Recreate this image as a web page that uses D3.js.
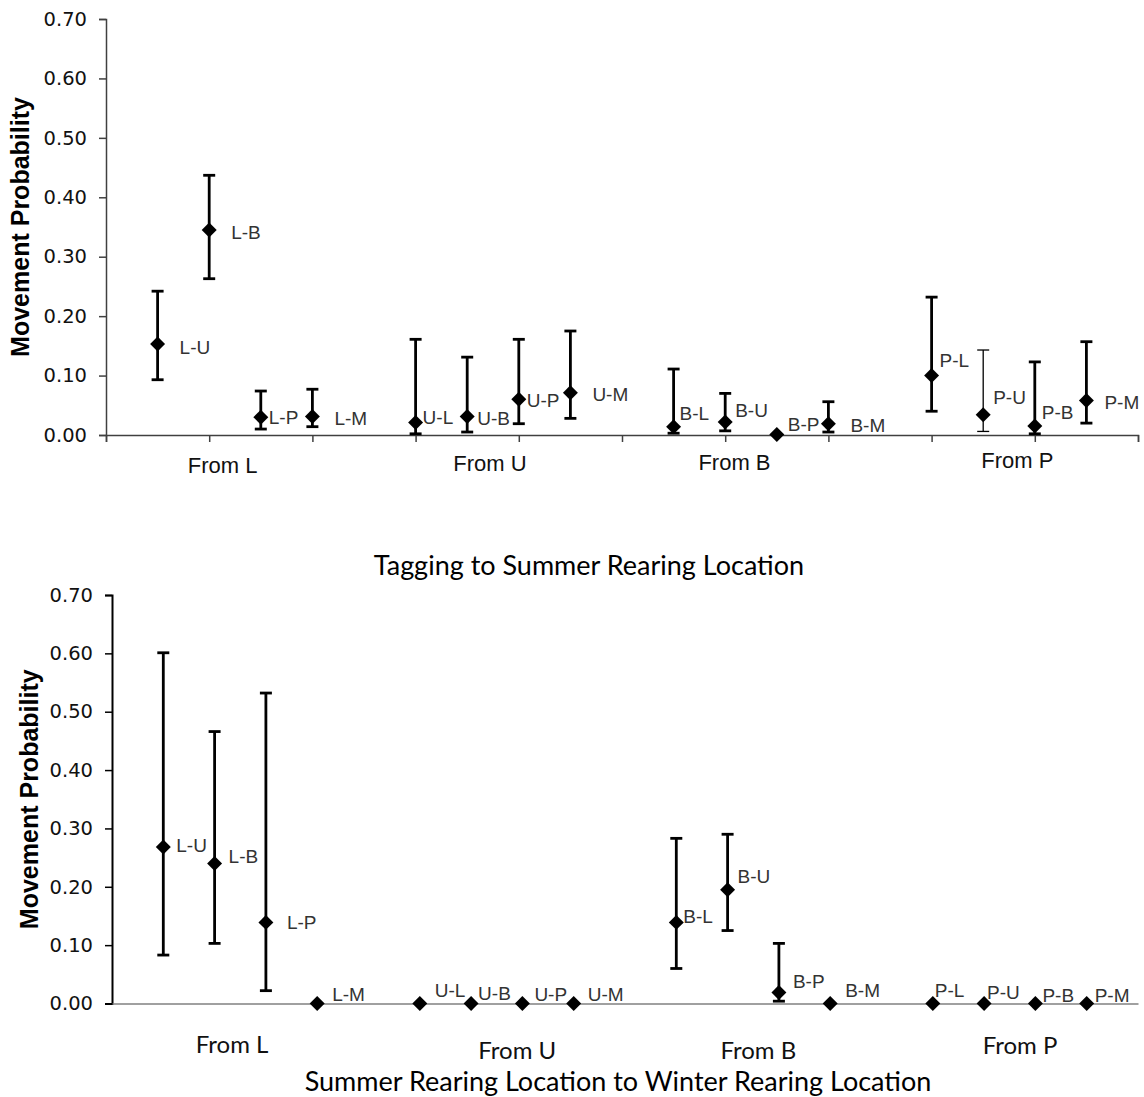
<!DOCTYPE html>
<html>
<head>
<meta charset="utf-8">
<script src="https://cdn.jsdelivr.net/npm/d3@7"></script>
<style>
  body { margin: 0; background: #fff; }
</style>
</head>
<body>
<div id="chart"></div>
<script>
// movement labels (same order in both panels)
const moves = ["L-U","L-B","L-P","L-M","U-L","U-B","U-P","U-M","B-L","B-U","B-P","B-M","P-L","P-U","P-B","P-M"];
const groups = ["From L", "From U", "From B", "From P"];
const yTicks = [0, 0.1, 0.2, 0.3, 0.4, 0.5, 0.6, 0.7];

// panel 1: tagging -> summer rearing
const topX    = [0.5, 1, 1.5, 2, 3, 3.5, 4, 4.5, 5.5, 6, 6.5, 7, 8, 8.5, 9, 9.5];
const topMean = [0.153, 0.345, 0.030, 0.031, 0.021, 0.031, 0.060, 0.071, 0.014, 0.022, 0.001, 0.019, 0.100, 0.034, 0.015, 0.058];
const topLow  = [0.093, 0.263, 0.010, 0.014, 0.002, 0.005, 0.019, 0.028, 0.003, 0.007, 0.001, 0.005, 0.040, 0.006, 0.002, 0.020];
const topHigh = [0.242, 0.437, 0.074, 0.077, 0.161, 0.131, 0.161, 0.175, 0.111, 0.070, 0.001, 0.056, 0.232, 0.143, 0.123, 0.157];
const topGroupX = [1.13, 3.72, 6.09, 8.83];

// panel 2: summer rearing -> winter rearing
const botX    = [1, 2, 3, 4, 6, 7, 8, 9, 11, 12, 13, 14, 16, 17, 18, 19];
const botMean = [0.268, 0.240, 0.139, 0, 0, 0, 0, 0, 0.139, 0.195, 0.019, 0, 0, 0, 0, 0];
const botLow  = [0.083, 0.103, 0.022, 0, 0, 0, 0, 0, 0.060, 0.125, 0.004, 0, 0, 0, 0, 0];
const botHigh = [0.601, 0.466, 0.532, 0, 0, 0, 0, 0, 0.283, 0.290, 0.103, 0, 0, 0, 0, 0];
const botGroupX = [2.34, 7.9, 12.6, 17.7];

// label nudges (px) - hand placed in the original
const topLabelDx = [22, 22, 8, 22, 7, 10, 8, 22, 6, 10, 11, 22, 8, 10, 7, 18];
const topLabelDy = [3, 2, 0, 2, -5, 2, 1, 2, -13, -12, -10, 2, -15, -17, -14, 2];
const botLabelDx = [13, 14, 21, 15, 15, 7, 12, 14, 7, 10, 14, 15, 2, 3, 7, 8];
const botLabelDy = [-2, -7, 0, -9, -13, -10, -9, -9, -6, -13, -11, -13, -13, -11, -8, -8];
const topGroupDy = [2, 0, -1, -3];
const botGroupDy = [-4, 2, 2, -3];

const svg = d3.select("#chart").append("svg")
  .attr("width", 1144).attr("height", 1097);

const arial = "'Liberation Sans', Arial, sans-serif";
const calibriLike = "Lato, 'Open Sans', sans-serif";

function panel(opt) {
  const x = d3.scaleLinear().domain(opt.xDomain).range([opt.left, opt.right]);
  const y = d3.scaleLinear().domain([0, 0.7]).range([opt.bottom, opt.top]);
  const g = svg.append("g");

  // y axis
  const ya = g.append("g").attr("transform", `translate(${opt.left},0)`)
    .call(d3.axisLeft(y).tickValues(yTicks).tickFormat(d3.format(".2f")).tickSizeOuter(0).tickSize(7).tickPadding(12));
  ya.select(".domain").attr("stroke", opt.yAxisColor).attr("stroke-width", opt.yAxisWidth);
  ya.selectAll(".tick line").attr("stroke", opt.yAxisColor).attr("stroke-width", 1.5);
  ya.selectAll(".tick text").attr("fill", "#111")
    .style("font-family", "'DejaVu Sans', sans-serif").style("font-size", "19.5px");

  // x axis
  const xa = g.append("g").attr("transform", `translate(0,${opt.bottom})`)
    .call(d3.axisBottom(x).ticks(opt.xDomain[1]).tickFormat("").tickSize(opt.xTicks ? 7 : 0).tickSizeOuter(opt.xTicks ? 7 : 0));
  xa.select(".domain").attr("stroke", opt.xAxisColor).attr("stroke-width", 1.5);
  xa.selectAll(".tick line").attr("stroke", opt.xAxisColor).attr("stroke-width", 1.5);

  // y title
  g.append("text")
    .attr("transform", `translate(${opt.titleX},${(opt.top + opt.bottom) / 2}) rotate(-90)`)
    .attr("text-anchor", "middle").attr("dy", "0.35em")
    .style("font-family", arial).style("font-size", "25px").style("font-weight", "bold")
    .attr("fill", "#000")
    .text("Movement Probability");

  // group labels
  g.selectAll(".grp").data(groups).join("text")
    .attr("x", (d, i) => x(opt.groupX[i]))
    .attr("y", (d, i) => opt.groupY + opt.groupDy[i])
    .attr("text-anchor", "middle").attr("dy", "0.35em")
    .attr("fill", "#111")
    .style("font-family", opt.groupFont).style("font-size", opt.groupSize + "px")
    .text(d => d);

  const pts = moves.map((m, i) => ({
    m, x: opt.xs[i], v: opt.mean[i], lo: opt.low[i], hi: opt.high[i],
    dx: opt.dx[i], dy: opt.dy[i], thin: opt.thin.includes(m)
  }));

  // error bars
  const eb = g.selectAll(".eb").data(pts.filter(d => d.hi > d.lo)).join("g")
    .attr("stroke", "#000")
    .attr("stroke-width", d => d.thin ? 1.3 : 2.8);
  eb.append("line")
    .attr("x1", d => x(d.x)).attr("x2", d => x(d.x))
    .attr("y1", d => y(d.lo)).attr("y2", d => y(d.hi));
  eb.append("line")
    .attr("x1", d => x(d.x) - 6).attr("x2", d => x(d.x) + 6)
    .attr("y1", d => y(d.hi)).attr("y2", d => y(d.hi));
  eb.append("line")
    .attr("x1", d => x(d.x) - 6).attr("x2", d => x(d.x) + 6)
    .attr("y1", d => y(d.lo)).attr("y2", d => y(d.lo));

  // diamonds
  g.selectAll(".pt").data(pts).join("path")
    .attr("d", d3.symbol().type(d3.symbolSquare).size(112))
    .attr("transform", d => `translate(${x(d.x)},${y(d.v)}) rotate(45)`)
    .attr("fill", "#000");

  // point labels
  g.selectAll(".lbl").data(pts).join("text")
    .attr("x", d => x(d.x) + d.dx)
    .attr("y", d => y(d.v) + d.dy)
    .attr("dy", "0.35em")
    .attr("fill", "#333")
    .style("font-family", arial).style("font-size", "19px")
    .text(d => d.m);

  // panel title
  svg.append("text")
    .attr("x", opt.capX).attr("y", opt.capY).attr("dy", "0.35em")
    .attr("text-anchor", "middle")
    .attr("fill", "#000")
    .style("font-family", calibriLike).style("font-size", "27px")
    .text(opt.caption);
}

panel({
  left: 106, right: 1138, top: 19, bottom: 435, xDomain: [0, 10], xTicks: true,
  xs: topX, mean: topMean, low: topLow, high: topHigh, dx: topLabelDx, dy: topLabelDy,
  groupX: topGroupX, groupY: 463, groupDy: topGroupDy, groupSize: 22, groupFont: arial,
  thin: ["P-U"], titleX: 20, yAxisColor: "#404040", yAxisWidth: 1.5, xAxisColor: "#404040",
  caption: "Tagging to Summer Rearing Location", capX: 589, capY: 566
});

panel({
  left: 112, right: 1138, top: 595, bottom: 1003.5, xDomain: [0, 20], xTicks: false,
  xs: botX, mean: botMean, low: botLow, high: botHigh, dx: botLabelDx, dy: botLabelDy,
  groupX: botGroupX, groupY: 1049, groupDy: botGroupDy, groupSize: 24, groupFont: calibriLike,
  thin: [], titleX: 29, yAxisColor: "#000", yAxisWidth: 2, xAxisColor: "#808080",
  caption: "Summer Rearing Location to Winter Rearing Location", capX: 618, capY: 1082
});
</script>
</body>
</html>
